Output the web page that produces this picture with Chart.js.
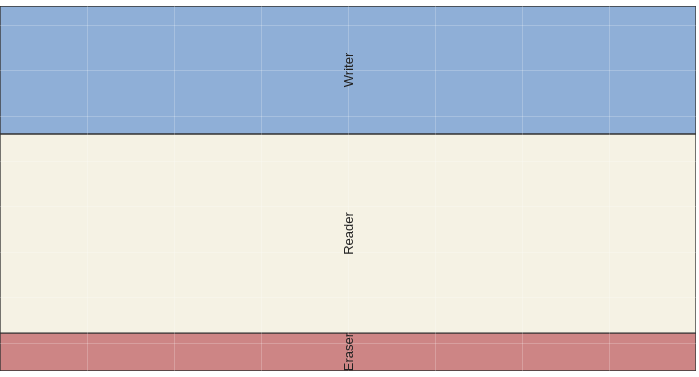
<!DOCTYPE html>
<html>
<head>
<meta charset="utf-8">
<script src="https://cdn.jsdelivr.net/npm/chart.js@4"></script>
<style>
  html, body { margin: 0; padding: 0; background: #ffffff; }
  #wrap { width: 699px; height: 377px; }
</style>
</head>
<body>
<div id="wrap"><canvas id="c" width="699" height="377"></canvas></div>
<script>
// ---- data ----
const categories = ['Eraser', 'Reader', 'Writer'];   // bottom to top
const values = [8, 42, 27];
const colors = ['#CD8585', '#F5F2E4', '#8FAFD7'];
const xGridTicks = [1, 2, 3, 4, 5, 6, 7];
const yGridTicks = [0, 1, 2, 3, 4, 5, 6, 7];

const total = values.reduce((a, b) => a + b, 0);

const datasets = categories.map((name, i) => ({
  label: name,
  data: [values[i]],
  backgroundColor: colors[i],
  borderColor: '#333333',
  borderWidth: 1,
  borderSkipped: false,
  categoryPercentage: 1,
  barPercentage: 1,
  xAxisID: 'x',
  yAxisID: 'y'
}));

const labelPlugin = {
  id: 'segLabels',
  afterDraw(chart) {
    const ctx = chart.ctx;
    const a = chart.chartArea;
    ctx.save();
    ctx.beginPath();
    ctx.rect(a.left, a.top, a.right - a.left, a.bottom - a.top);
    ctx.clip();
    ctx.font = '13px "Liberation Sans", Arial, sans-serif';
    ctx.fillStyle = '#222222';
    ctx.textAlign = 'center';
    ctx.textBaseline = 'middle';
    chart.data.datasets.forEach((ds, i) => {
      const el = chart.getDatasetMeta(i).data[0];
      const cy = (el.y + el.base) / 2;
      ctx.save();
      ctx.translate(el.x + 1, cy);
      ctx.rotate(-Math.PI / 2);
      ctx.fillText(ds.label, 0, 0);
      ctx.restore();
    });
    ctx.restore();
  }
};

const gridColor = 'rgba(255,255,255,0.22)';

new Chart(document.getElementById('c'), {
  type: 'bar',
  data: { labels: ['all'], datasets },
  options: {
    responsive: false,
    animation: false,
    devicePixelRatio: 1,
    layout: { padding: { left: 0, right: 3, top: 6, bottom: 6 } },
    plugins: { legend: { display: false }, tooltip: { enabled: false } },
    scales: {
      x: { type: 'category', stacked: true, display: false },
      y: { type: 'linear', stacked: true, display: false, min: 0, max: total },
      xg: {
        type: 'linear', position: 'bottom', min: 0, max: 8, offset: false,
        afterBuildTicks: ax => { ax.ticks = xGridTicks.map(v => ({ value: v })); },
        grid: { color: gridColor, lineWidth: 1, drawTicks: false, z: 1, offset: false },
        ticks: { display: false },
        border: { display: false }
      },
      yg: {
        type: 'linear', position: 'left', min: -0.612, max: 7.422, offset: false,
        afterBuildTicks: ax => { ax.ticks = yGridTicks.map(v => ({ value: v })); },
        grid: { color: gridColor, lineWidth: 1, drawTicks: false, z: 1, offset: false },
        ticks: { display: false },
        border: { display: false }
      }
    }
  },
  plugins: [labelPlugin]
});
</script>
</body>
</html>
